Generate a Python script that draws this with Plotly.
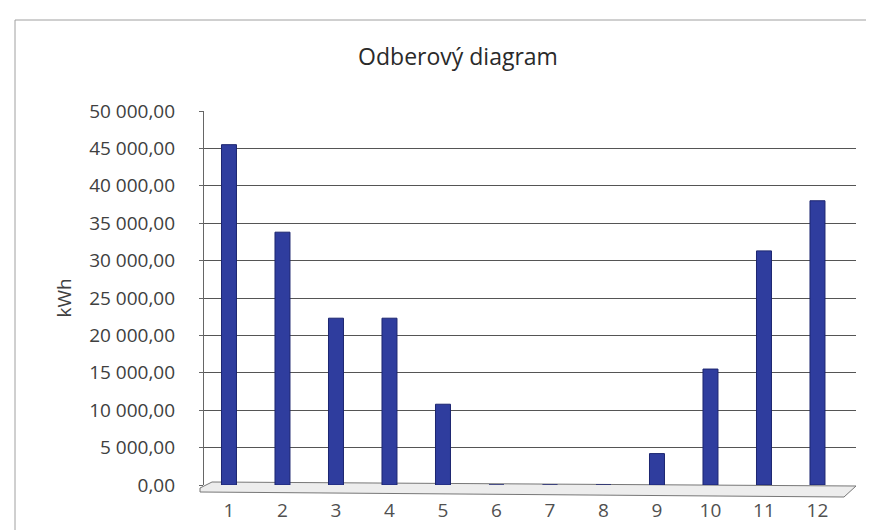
import plotly.graph_objects as go

# Data
months = [1, 2, 3, 4, 5, 6, 7, 8, 9, 10, 11, 12]
month_labels = ["1", "2", "3", "4", "5", "6", "7", "8", "9", "10", "11", "12"]
kwh = [45500, 33800, 22300, 22300, 10800, 0, 0, 0, 4200, 15500, 31300, 38000]
y_ticks = [0, 5000, 10000, 15000, 20000, 25000, 30000, 35000, 40000, 45000, 50000]

W, H = 874, 530
ML, MR, MT, MB = 196, 26, 103, 53
PW = W - ML - MR
PH = H - MT - MB

def px_x(px):
    return (px - ML) / PW

def px_y(py):
    return (H - MB - py) / PH

fig = go.Figure()
fig.add_trace(go.Bar(
    x=months, y=kwh, width=0.28,
    marker=dict(color="#2F3D9E", line=dict(color="#1C2570", width=1)),
    showlegend=False,
))

font = "'Open Sans', sans-serif"
fig.update_layout(
    width=W, height=H,
    margin=dict(l=ML, r=MR, t=MT, b=MB),
    paper_bgcolor="white", plot_bgcolor="white",
    separators=", ",
    font=dict(family=font, color="#404040", size=19),
    title=dict(text="Odberový diagram", x=450 / W, xanchor="center", y=1 - 49 / H, yanchor="middle",
               font=dict(family=font, size=23, color="#2a2a2a")),
    xaxis=dict(
        range=[0.533, 12.72], tickmode="array", tickvals=months, ticktext=month_labels,
        showgrid=False, zeroline=False, showline=False, ticks="",
        ticklabelstandoff=12,
        tickfont=dict(size=19, color="#505050"),
    ),
    yaxis=dict(
        range=[0, 50000], tickmode="array", tickvals=y_ticks, tickformat=",.2f",
        showgrid=True, gridcolor="#555555", gridwidth=1.4,
        zeroline=False, showline=True, linecolor="#666666", linewidth=1.2,
        ticks="outside", ticklen=4, tickcolor="#666666",
        ticklabelstandoff=20,
        tickfont=dict(size=19, color="#404040"),
        title=dict(text="kWh", font=dict(size=19, color="#404040"), standoff=12),
    ),
)

# floor of the 3D plot
fig.add_shape(type="path", xref="paper", yref="paper",
              path=f"M {px_x(192)} {px_y(480)} L {px_x(204)} {px_y(474)} L {px_x(848)} {px_y(478)} "
                   f"L {px_x(836)} {px_y(489)} L {px_x(192)} {px_y(484)} Z",
              line=dict(color="#777777", width=1), fillcolor="rgba(220,220,220,0.5)", layer="below")

# chart border
fig.add_shape(type="rect", xref="paper", yref="paper",
              x0=px_x(7), x1=px_x(880), y0=px_y(540), y1=px_y(12),
              line=dict(color="#A0A0A0", width=1))

fig.write_html("out.html")
